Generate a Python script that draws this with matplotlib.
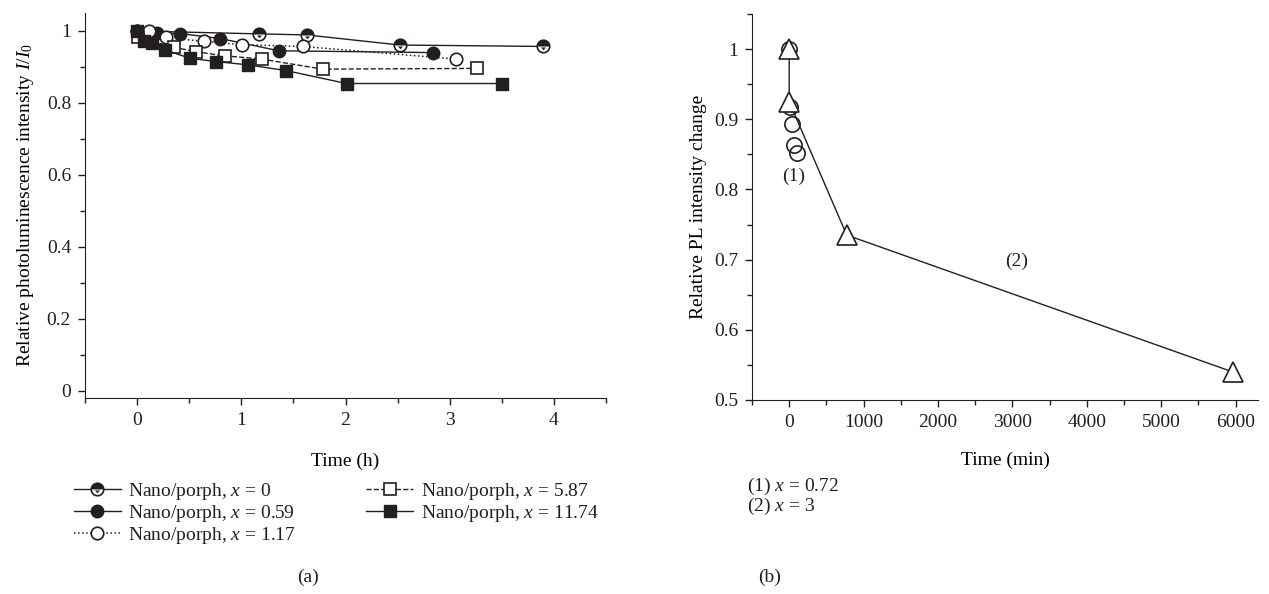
import numpy as np
import matplotlib
matplotlib.use("Agg")
import matplotlib.pyplot as plt
from matplotlib.path import Path
from matplotlib.ticker import MultipleLocator
from matplotlib.legend_handler import HandlerTuple

plt.rcParams['font.family'] = ['Liberation Serif', 'DejaVu Serif']
plt.rcParams['mathtext.fontset'] = 'custom'
plt.rcParams['mathtext.rm'] = 'Liberation Serif'
plt.rcParams['mathtext.it'] = 'Liberation Serif:italic'
plt.rcParams['font.size'] = 14
ink = '#231f20'
plt.rcParams['text.color'] = ink
plt.rcParams['axes.edgecolor'] = ink
plt.rcParams['xtick.color'] = ink
plt.rcParams['ytick.color'] = ink

# (a) photoluminescence vs time (h)
t_x0 = [0, 1.17, 1.63, 2.52, 3.90]
i_x0 = [1.0, 0.992, 0.989, 0.961, 0.957]
t_x059 = [0, 0.19, 0.41, 0.80, 1.36, 2.84]
i_x059 = [1.0, 0.994, 0.993, 0.979, 0.945, 0.940]
t_x117 = [0.11, 0.28, 0.64, 1.01, 1.59, 3.06]
i_x117 = [1.0, 0.982, 0.971, 0.962, 0.957, 0.922]
t_x587 = [0.01, 0.35, 0.57, 0.84, 1.195, 1.78, 3.26]
i_x587 = [0.982, 0.955, 0.942, 0.931, 0.922, 0.894, 0.896]
t_x1174 = [0, 0.07, 0.14, 0.27, 0.51, 0.76, 1.06, 1.43, 2.01, 3.50]
i_x1174 = [1.0, 0.973, 0.968, 0.947, 0.924, 0.915, 0.906, 0.890, 0.854, 0.854]

# (b) relative PL change vs time (min)
t_b1 = [0, 10, 40, 70, 105]
i_b1 = [1.0, 0.917, 0.893, 0.864, 0.852]
t_b2 = [0, 0, 773, 5960]
i_b2 = [1.0, 0.925, 0.735, 0.54]

fig = plt.figure(figsize=(12.69, 5.94), dpi=100)

# half-filled circle: black top half with a small black notch below
theta = np.linspace(0, np.pi, 30)
top = np.column_stack([np.cos(theta), np.sin(theta)])
top = np.vstack([top, top[:1]])
tri = np.array([[-0.4, -0.15], [0.4, -0.15], [0.0, -0.6], [-0.4, -0.15]])
half_mark = Path.make_compound_path(
    Path(top, [Path.MOVETO] + [Path.LINETO] * (len(top) - 2) + [Path.CLOSEPOLY]),
    Path(tri, [Path.MOVETO, Path.LINETO, Path.LINETO, Path.CLOSEPOLY]),
    Path(np.array([[-1.0, -1.0], [1.0, 1.0]]), [Path.MOVETO, Path.MOVETO]),
)

ax = fig.add_axes([85 / 1269, 1 - 398 / 594, 521 / 1269, 385 / 594])
ms = 9
l0 = ax.plot(t_x0, i_x0, '-', color=ink, lw=1, marker='o', ms=ms,
             mfc='white', mec=ink, mew=1.2)[0]
l0b = ax.plot(t_x0, i_x0, ls='none', marker=half_mark, ms=ms, mfc=ink, mec=ink, mew=0)[0]
l1 = ax.plot(t_x059, i_x059, '-', color=ink, lw=1, marker='o', ms=ms, mfc=ink, mec=ink)[0]
l2 = ax.plot(t_x117, i_x117, ':', color=ink, lw=1.1, marker='o', ms=ms,
             mfc='white', mec=ink, mew=1.2)[0]
l3 = ax.plot(t_x587, i_x587, '--', color=ink, lw=1, marker='s', ms=ms,
             mfc='white', mec=ink, mew=1.2)[0]
l4 = ax.plot(t_x1174, i_x1174, '-', color=ink, lw=1, marker='s', ms=ms, mfc=ink, mec=ink)[0]

ax.set_xlim(-0.5, 4.5)
ax.set_ylim(-0.02, 1.05)
ax.xaxis.set_major_locator(MultipleLocator(1))
ax.xaxis.set_minor_locator(MultipleLocator(0.5))
ax.yaxis.set_major_locator(MultipleLocator(0.2))
ax.yaxis.set_minor_locator(MultipleLocator(0.1))
ax.yaxis.set_major_formatter(plt.FuncFormatter(lambda v, p: '%g' % round(v, 2)))
ax.set_xlabel('Time (h)', labelpad=17)
ax.set_ylabel(r'Relative photoluminescence intensity $I/I_0$', labelpad=8)

handles = [(l0, l0b), l1, l2, l3, l4]
labels = [r'Nano/porph, $x$ = 0', r'Nano/porph, $x$ = 0.59', r'Nano/porph, $x$ = 1.17',
          r'Nano/porph, $x$ = 5.87', r'Nano/porph, $x$ = 11.74']
fig.legend(handles, labels, ncol=2, loc='upper left', bbox_to_anchor=(74 / 1269, 1 - 481 / 594),
           frameon=False, numpoints=1, handlelength=2.4, handletextpad=0.4,
           labelspacing=0.05, columnspacing=3.6, borderpad=0, borderaxespad=0,
           handler_map={tuple: HandlerTuple(ndivide=1)})
fig.text(308 / 1269, 1 - 577 / 594, '(a)', ha='center', va='center')

bx = fig.add_axes([752 / 1269, 1 - 400 / 594, 506 / 1269, 386 / 594])
bx.plot(t_b1, i_b1, ls='none', marker='o', ms=11, mfc='none', mec=ink, mew=1.2)
bx.plot(t_b2, i_b2, '-', color=ink, lw=1, marker='^', ms=14, mfc='white', mec=ink, mew=1.2)
bx.text(54, 0.819, '(1)', ha='center', va='center')
bx.text(3060, 0.697, '(2)', ha='center', va='center')
bx.set_xlim(-500, 6300)
bx.set_ylim(0.5, 1.05)
bx.xaxis.set_major_locator(MultipleLocator(1000))
bx.xaxis.set_minor_locator(MultipleLocator(500))
bx.yaxis.set_major_locator(MultipleLocator(0.1))
bx.yaxis.set_minor_locator(MultipleLocator(0.05))
bx.yaxis.set_major_formatter(plt.FuncFormatter(lambda v, p: '%g' % round(v, 2)))
bx.set_xlabel('Time (min)', labelpad=15)
bx.set_ylabel('Relative PL intensity change', labelpad=5)
fig.text(747 / 1269, 1 - 486 / 594, r'(1) $x$ = 0.72', ha='left', va='center')
fig.text(747 / 1269, 1 - 506 / 594, r'(2) $x$ = 3', ha='left', va='center')
fig.text(770 / 1269, 1 - 577 / 594, '(b)', ha='center', va='center')

for a in (ax, bx):
    a.spines['top'].set_visible(False)
    a.spines['right'].set_visible(False)
    a.tick_params(which='major', direction='out', length=5, width=1, pad=5)
    a.tick_params(which='minor', direction='out', length=3.5, width=1)

fig.savefig('out.png', dpi=100)
